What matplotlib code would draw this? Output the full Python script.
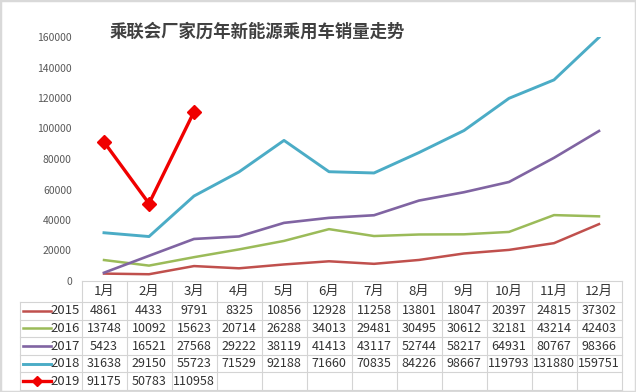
import matplotlib
matplotlib.use("Agg")
import matplotlib.pyplot as plt
from matplotlib.patches import Rectangle

plt.rcParams['font.family'] = ['Noto Sans CJK SC', 'DejaVu Sans']

title = "乘联会厂家历年新能源乘用车销量走势"
months = ["1月", "2月", "3月", "4月", "5月", "6月", "7月", "8月", "9月", "10月", "11月", "12月"]
years = ["2015", "2016", "2017", "2018", "2019"]
s2015 = [4861, 4433, 9791, 8325, 10856, 12928, 11258, 13801, 18047, 20397, 24815, 37302]
s2016 = [13748, 10092, 15623, 20714, 26288, 34013, 29481, 30495, 30612, 32181, 43214, 42403]
s2017 = [5423, 16521, 27568, 29222, 38119, 41413, 43117, 52744, 58217, 64931, 80767, 98366]
s2018 = [31638, 29150, 55723, 71529, 92188, 71660, 70835, 84226, 98667, 119793, 131880, 159751]
s2019 = [91175, 50783, 110958]
yticks = [0, 20000, 40000, 60000, 80000, 100000, 120000, 140000, 160000]

series = [s2015, s2016, s2017, s2018, s2019]
colors = ['#C0504D', '#9BBB59', '#8064A2', '#4BACC6', '#F00000']
widths = [1.8, 1.8, 1.9, 2.1, 2.4]

W, H = 636, 392
fig = plt.figure(figsize=(W / 100, H / 100), dpi=100)
ax_l, ax_r, ax_t, ax_b = 81.5, 621.5, 37, 281
axw, axh = ax_r - ax_l, ax_b - ax_t
ax = fig.add_axes([ax_l / W, 1 - ax_b / H, axw / W, axh / H])

x = list(range(len(months)))
for i, (yr, s) in enumerate(zip(years, series)):
    if yr == "2019":
        ax.plot(x[:len(s)], s, color=colors[i], lw=widths[i], marker='D', ms=7.5,
                zorder=5, solid_joinstyle='miter')
    else:
        ax.plot(x[:len(s)], s, color=colors[i], lw=widths[i], zorder=3)

ax.set_xlim(-0.5, len(months) - 0.5)
ax.set_ylim(0, 160000)
ax.set_yticks(yticks)
ax.set_yticklabels([str(v) for v in yticks], fontsize=7.5, color='#595959')
ax.tick_params(axis='y', length=0, pad=7)
ax.set_xticks([])
for sp in ax.spines.values():
    sp.set_visible(False)

# ---- data table under the axes (x in category units, y in axes units)
tr = ax.get_xaxis_transform()
n = len(months)
col_w = axw / n
head_h, row_h = 21 / axh, 17.6 / axh
xl = -0.5 - 61.5 / col_w
xr = n - 0.5
grid = dict(color='#D4D4D4', lw=0.8, transform=tr, clip_on=False, zorder=1)

y_rows = [-head_h - row_h * k for k in range(len(years) + 1)]
ax.plot([-0.5, xr], [0, 0], **grid)
for yy in y_rows:
    ax.plot([xl, xr], [yy, yy], **grid)
ax.plot([xl, xl], [y_rows[0], y_rows[-1]], **grid)
for k in range(n + 1):
    ax.plot([k - 0.5, k - 0.5], [0, y_rows[-1]], **grid)

for k, m in enumerate(months):
    ax.text(k, -head_h / 2, m, transform=tr, ha='center', va='center',
            fontsize=9.5, color='#333333', clip_on=False)

lab_x = -0.5 - 1.8 / col_w
key_x0, key_x1 = -0.5 - (ax_l - 23) / col_w, -0.5 - (ax_l - 51) / col_w
for i, (yr, s) in enumerate(zip(years, series)):
    yc = y_rows[i] - row_h / 2
    ax.text(lab_x, yc, yr, transform=tr, ha='right', va='center',
            fontsize=9.5, color='#333333', clip_on=False)
    if yr == "2019":
        ax.plot([key_x0, (key_x0 + key_x1) / 2, key_x1], [yc, yc, yc], transform=tr,
                clip_on=False, color=colors[i], lw=widths[i], marker='D', ms=5,
                markevery=[1], zorder=6)
    else:
        ax.plot([key_x0, key_x1], [yc, yc], transform=tr, clip_on=False,
                color=colors[i], lw=widths[i], zorder=6)
    for k, v in enumerate(s):
        ax.text(k, yc, str(v), transform=tr, ha='center', va='center',
                fontsize=9, color='#333333', clip_on=False)

fig.text(257 / W, 1 - 32 / H, title, ha='center', va='center', fontsize=12.5,
         fontweight='bold', color='#404040')

fig.patches.append(Rectangle((0, 0), 1, 1, transform=fig.transFigure, fill=False,
                             edgecolor='#D9D9D9', lw=2.5))

fig.savefig("out.png", dpi=100)
